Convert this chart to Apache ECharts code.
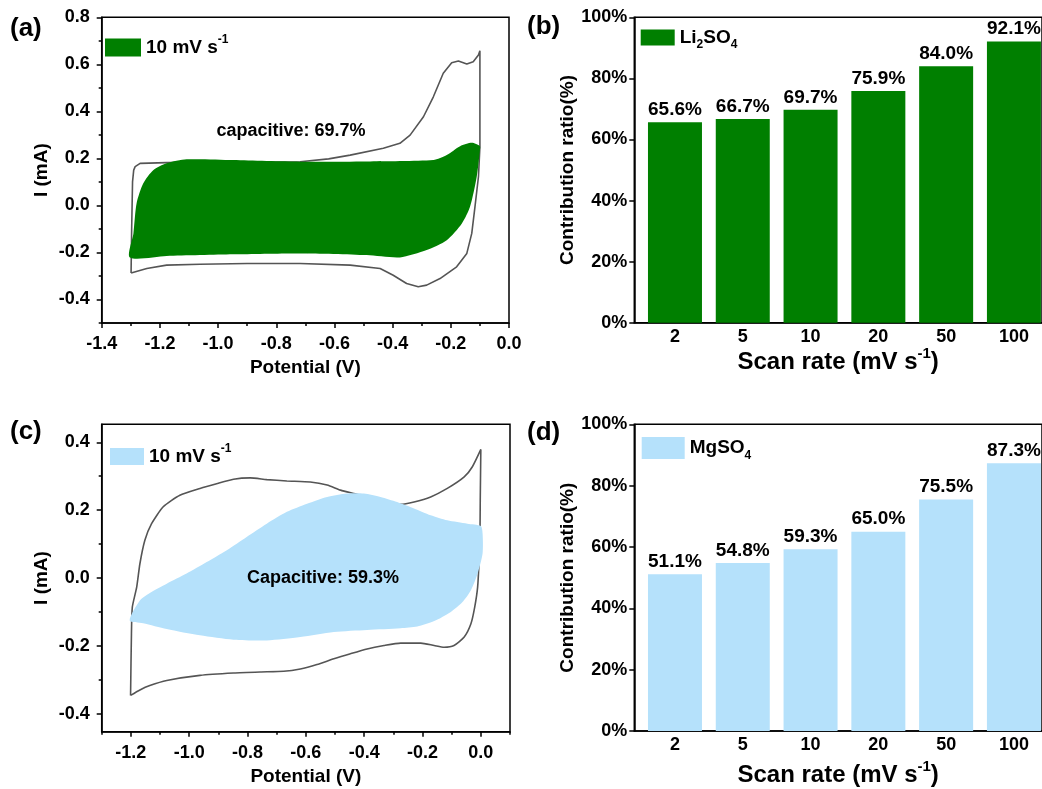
<!DOCTYPE html>
<html><head><meta charset="utf-8">
<script src="https://cdn.jsdelivr.net/npm/echarts@6/dist/echarts.min.js"></script>
<style>html,body{margin:0;padding:0;background:#fff;overflow:hidden}#c{width:1042px;height:789px}</style>
</head><body><div id="c"></div>
<script>
// ---------- data ----------
const scanRates = ['2', '5', '10', '20', '50', '100'];
const li2so4Ratio = [65.6, 66.7, 69.7, 75.9, 84.0, 92.1];
const mgso4Ratio = [51.1, 54.8, 59.3, 65.0, 75.5, 87.3];

// (a) CV outline (Potential V, Current mA)
const cvOutlineA = [[-1.299,-0.287],[-1.297,-0.10],[-1.294,0.10],[-1.290,0.150],[-1.285,0.165],[-1.268,0.179],[-1.177,0.182],[-1.0,0.183],[-0.85,0.184],[-0.718,0.186],[-0.620,0.198],[-0.546,0.214],[-0.432,0.243],[-0.375,0.264],[-0.340,0.299],[-0.294,0.377],[-0.260,0.462],[-0.226,0.562],[-0.197,0.607],[-0.174,0.614],[-0.145,0.601],[-0.123,0.611],[-0.105,0.640],[-0.100,0.658],[-0.100,0.250],[-0.105,0.122],[-0.117,-0.006],[-0.128,-0.119],[-0.145,-0.204],[-0.180,-0.261],[-0.237,-0.311],[-0.283,-0.339],[-0.312,-0.346],[-0.352,-0.332],[-0.398,-0.297],[-0.443,-0.268],[-0.546,-0.254],[-0.718,-0.247],[-0.90,-0.247],[-1.062,-0.250],[-1.177,-0.254],[-1.245,-0.268],[-1.299,-0.287]];
// (a) capacitive contribution region
const capFillA = [[-1.303,-0.221],[-1.291,-0.119],[-1.280,0.009],[-1.257,0.094],[-1.223,0.150],[-1.177,0.179],[-1.108,0.196],[-0.948,0.193],[-0.718,0.186],[-0.489,0.187],[-0.260,0.193],[-0.214,0.214],[-0.168,0.252],[-0.128,0.266],[-0.100,0.252],[-0.100,0.235],[-0.111,0.122],[-0.134,-0.006],[-0.162,-0.077],[-0.214,-0.148],[-0.283,-0.190],[-0.375,-0.221],[-0.489,-0.211],[-0.718,-0.204],[-0.948,-0.208],[-1.177,-0.215]];

// (c) CV outline
const cvOutlineC = [[-1.201,-0.346],[-1.198,-0.164],[-1.195,-0.086],[-1.180,-0.027],[-1.169,0.042],[-1.152,0.111],[-1.129,0.160],[-1.089,0.210],[-1.032,0.244],[-0.963,0.264],[-0.906,0.278],[-0.848,0.291],[-0.791,0.295],[-0.734,0.290],[-0.665,0.286],[-0.585,0.283],[-0.527,0.274],[-0.481,0.259],[-0.436,0.249],[-0.390,0.239],[-0.332,0.224],[-0.275,0.217],[-0.229,0.224],[-0.172,0.239],[-0.115,0.264],[-0.057,0.298],[-0.029,0.328],[0.0,0.379],[-0.002,0.229],[-0.003,0.131],[-0.006,0.052],[-0.011,-0.027],[-0.021,-0.086],[-0.034,-0.135],[-0.057,-0.174],[-0.092,-0.199],[-0.126,-0.204],[-0.160,-0.199],[-0.206,-0.192],[-0.275,-0.192],[-0.332,-0.199],[-0.390,-0.209],[-0.447,-0.223],[-0.504,-0.238],[-0.562,-0.255],[-0.619,-0.268],[-0.676,-0.275],[-0.757,-0.277],[-0.848,-0.280],[-0.963,-0.287],[-1.077,-0.302],[-1.135,-0.317],[-1.169,-0.330],[-1.201,-0.346]];
// (c) capacitive contribution region
const capFillC = [[-1.204,-0.125],[-1.169,-0.066],[-1.135,-0.044],[-1.077,-0.017],[-1.009,0.013],[-0.940,0.047],[-0.871,0.082],[-0.803,0.121],[-0.734,0.160],[-0.665,0.195],[-0.596,0.219],[-0.527,0.239],[-0.459,0.249],[-0.401,0.249],[-0.344,0.239],[-0.287,0.224],[-0.229,0.205],[-0.172,0.185],[-0.115,0.170],[-0.046,0.160],[0.0,0.153],[0.006,0.131],[0.006,0.072],[-0.011,0.013],[-0.034,-0.036],[-0.063,-0.071],[-0.103,-0.100],[-0.160,-0.127],[-0.218,-0.143],[-0.275,-0.148],[-0.390,-0.153],[-0.504,-0.159],[-0.619,-0.174],[-0.734,-0.184],[-0.848,-0.182],[-0.963,-0.169],[-1.077,-0.150],[-1.158,-0.133]];

// tick values
const yLabelsA = [-0.4, -0.2, 0, 0.2, 0.4, 0.6, 0.8];
const yMinorA = [-0.5, -0.3, -0.1, 0.1, 0.3, 0.5, 0.7];
const xLabelsC = [-1.2, -1.0, -0.8, -0.6, -0.4, -0.2, 0];
const xMinorC = [-1.3, -1.1, -0.9, -0.7, -0.5, -0.3, -0.1, 0.1];
const yLabelsC = [-0.4, -0.2, 0, 0.2, 0.4];
const yMinorC = [-0.3, -0.1, 0.1, 0.3];
const barPositions = [1, 2, 3, 4, 5, 6];

// ---------- styling ----------
const FF = 'Liberation Sans, Arial, sans-serif';
const GREEN = '#007f00';
const BLUE = '#b5e1fb';
const GRAY = '#555555';
const lbl = (size) => ({ color: '#000', fontFamily: FF, fontWeight: 'bold', fontSize: size });
const axLine = { show: true, onZero: false, lineStyle: { color: '#000', width: 1.5 } };
const noLine = { show: false, onZero: false };
const richSup = (size) => ({
  t: { fontFamily: FF, fontWeight: 'bold', fontSize: size, color: '#000', verticalAlign: 'middle', lineHeight: size + 8 },
  sup: { fontFamily: FF, fontWeight: 'bold', fontSize: Math.round(size * 0.62), color: '#000', verticalAlign: 'top' },
  sub: { fontFamily: FF, fontWeight: 'bold', fontSize: Math.round(size * 0.65), color: '#000', verticalAlign: 'bottom' }
});

function polygonSeries(points, color, xi, yi, name) {
  return {
    type: 'custom', name: name, xAxisIndex: xi, yAxisIndex: yi, z: 3,
    itemStyle: { color: color },
    data: points,
    encode: { x: 0, y: 1 },
    renderItem: function (params, api) {
      if (params.dataIndex !== 0) return null;
      const pts = points.map(p => api.coord(p));
      return { type: 'polygon', shape: { points: pts, smooth: 0.25 }, style: { fill: color, stroke: null } };
    }
  };
}

const chart = echarts.init(document.getElementById('c'), null, { renderer: 'canvas' });

const option = {
  animation: false,
  backgroundColor: '#fff',
  grid: [
    { left: 101.7, top: 17.3, width: 407.3, height: 305.7, show: true, borderColor: '#000', borderWidth: 1.5 },
    { left: 634.3, top: 17.3, width: 407.7, height: 305.4, show: true, borderColor: '#000', borderWidth: 1.5 },
    { left: 101.7, top: 424.3, width: 408.3, height: 307.4, show: true, borderColor: '#000', borderWidth: 1.5 },
    { left: 634.3, top: 424.3, width: 407.7, height: 306.7, show: true, borderColor: '#000', borderWidth: 1.5 }
  ],
  xAxis: [
    { gridIndex: 0, type: 'value', position: 'bottom', min: -1.4, max: 0, interval: 0.2,
      axisLine: axLine, splitLine: { show: false },
      axisTick: { length: 5, lineStyle: { color: '#000', width: 1.5 } },
      minorTick: { show: true, splitNumber: 2, length: 3, lineStyle: { color: '#000', width: 1.5 } },
      axisLabel: Object.assign(lbl(18), { margin: 12, formatter: v => v.toFixed(1) }),
      name: 'Potential (V)', nameLocation: 'middle', nameGap: 35, nameTextStyle: lbl(19) },
    { gridIndex: 1, type: 'value', position: 'bottom', min: 0.4, max: 6.414,
      axisLine: axLine, splitLine: { show: false }, axisTick: { show: false },
      axisLabel: Object.assign(lbl(18), { margin: 5, customValues: barPositions, formatter: v => scanRates[Math.round(v) - 1] }),
      name: '{t|Scan rate (mV s}{sup|-1}{t|)}', nameLocation: 'middle', nameGap: 21,
      nameTextStyle: { rich: richSup(24) } },
    { gridIndex: 2, type: 'value', position: 'bottom', min: -1.3, max: 0.1,
      axisLine: axLine, splitLine: { show: false },
      axisTick: { length: 5, customValues: xLabelsC, lineStyle: { color: '#000', width: 1.5 } },
      axisLabel: Object.assign(lbl(18), { margin: 12, customValues: xLabelsC, formatter: v => v.toFixed(1) }),
      name: 'Potential (V)', nameLocation: 'middle', nameGap: 36, nameTextStyle: lbl(19) },
    { gridIndex: 2, type: 'value', position: 'bottom', min: -1.3, max: 0.1,
      axisLine: noLine, splitLine: { show: false }, axisLabel: { show: false },
      axisTick: { length: 3, customValues: xMinorC, lineStyle: { color: '#000', width: 1.5 } } },
    { gridIndex: 3, type: 'value', position: 'bottom', min: 0.4, max: 6.414,
      axisLine: axLine, splitLine: { show: false }, axisTick: { show: false },
      axisLabel: Object.assign(lbl(18), { margin: 5, customValues: barPositions, formatter: v => scanRates[Math.round(v) - 1] }),
      name: '{t|Scan rate (mV s}{sup|-1}{t|)}', nameLocation: 'middle', nameGap: 28,
      nameTextStyle: { rich: richSup(24) } }
  ],
  yAxis: [
    { gridIndex: 0, type: 'value', position: 'left', min: -0.5, max: 0.8,
      axisLine: axLine, splitLine: { show: false },
      axisTick: { length: 5, customValues: yLabelsA, lineStyle: { color: '#000', width: 1.5 } },
      axisLabel: Object.assign(lbl(18), { margin: 12, customValues: yLabelsA, formatter: v => v.toFixed(1) }),
      name: 'I (mA)', nameLocation: 'middle', nameGap: 50, nameTextStyle: lbl(19) },
    { gridIndex: 0, type: 'value', position: 'left', min: -0.5, max: 0.8,
      axisLine: noLine, splitLine: { show: false }, axisLabel: { show: false },
      axisTick: { length: 3, customValues: yMinorA, lineStyle: { color: '#000', width: 1.5 } } },
    { gridIndex: 1, type: 'value', position: 'left', min: 0, max: 100, interval: 20,
      axisLine: axLine, splitLine: { show: false },
      axisTick: { length: 5, lineStyle: { color: '#000', width: 1.5 } },
      axisLabel: Object.assign(lbl(18), { margin: 7, formatter: '{value}%' }),
      name: 'Contribution ratio(%)', nameLocation: 'middle', nameGap: 43, nameTextStyle: lbl(19) },
    { gridIndex: 2, type: 'value', position: 'left', min: -0.453, max: 0.453,
      axisLine: axLine, splitLine: { show: false },
      axisTick: { length: 5, customValues: yLabelsC, lineStyle: { color: '#000', width: 1.5 } },
      axisLabel: Object.assign(lbl(18), { margin: 12, customValues: yLabelsC, formatter: v => v.toFixed(1) }),
      name: 'I (mA)', nameLocation: 'middle', nameGap: 50, nameTextStyle: lbl(19) },
    { gridIndex: 2, type: 'value', position: 'left', min: -0.453, max: 0.453,
      axisLine: noLine, splitLine: { show: false }, axisLabel: { show: false },
      axisTick: { length: 3, customValues: yMinorC, lineStyle: { color: '#000', width: 1.5 } } },
    { gridIndex: 3, type: 'value', position: 'left', min: 0, max: 100, interval: 20,
      axisLine: axLine, splitLine: { show: false },
      axisTick: { length: 5, lineStyle: { color: '#000', width: 1.5 } },
      axisLabel: Object.assign(lbl(18), { margin: 7, formatter: '{value}%' }),
      name: 'Contribution ratio(%)', nameLocation: 'middle', nameGap: 43, nameTextStyle: lbl(19) }
  ],
  legend: [
    { data: [{ name: 'capA', icon: 'rect' }], left: 105, top: 34, itemWidth: 36, itemHeight: 18, padding: 0, selectedMode: false,
      formatter: () => '{t|10 mV s}{sup|-1}', textStyle: { rich: richSup(19) } },
    { data: [{ name: 'Li2SO4', icon: 'rect' }], left: 640.7, top: 28, itemWidth: 34, itemHeight: 16, padding: 0, selectedMode: false,
      formatter: () => '{t|Li}{sub|2}{t|SO}{sub|4}', textStyle: { rich: richSup(19) } },
    { data: [{ name: 'capC', icon: 'rect' }], left: 110, top: 443, itemWidth: 34, itemHeight: 17, padding: 0, selectedMode: false,
      formatter: () => '{t|10 mV s}{sup|-1}', textStyle: { rich: richSup(19) } },
    { data: [{ name: 'MgSO4', icon: 'rect' }], left: 641.7, top: 437, itemWidth: 43, itemHeight: 22, padding: 0, selectedMode: false,
      formatter: () => '{t|MgSO}{sub|4}', textStyle: { rich: richSup(19) } }
  ],
  series: [
    { type: 'line', name: 'cvA', xAxisIndex: 0, yAxisIndex: 0, data: cvOutlineA, showSymbol: false, symbol: 'none',
      lineStyle: { color: GRAY, width: 1.6 }, itemStyle: { color: GRAY }, z: 2, smooth: false },
    polygonSeries(capFillA, GREEN, 0, 0, 'capA'),
    { type: 'bar', name: 'Li2SO4', xAxisIndex: 1, yAxisIndex: 2, barWidth: 54,
      data: li2so4Ratio.map((v, i) => [barPositions[i], v]),
      itemStyle: { color: GREEN },
      label: { show: true, position: 'top', distance: 3, color: '#000', fontFamily: FF, fontWeight: 'bold', fontSize: 19,
        formatter: p => p.value[1].toFixed(1) + '%' } },
    { type: 'line', name: 'cvC', xAxisIndex: 2, yAxisIndex: 3, data: cvOutlineC, showSymbol: false, symbol: 'none',
      lineStyle: { color: GRAY, width: 1.6 }, itemStyle: { color: GRAY }, z: 2, smooth: 0.2 },
    polygonSeries(capFillC, BLUE, 2, 3, 'capC'),
    { type: 'bar', name: 'MgSO4', xAxisIndex: 4, yAxisIndex: 5, barWidth: 54,
      data: mgso4Ratio.map((v, i) => [barPositions[i], v]),
      itemStyle: { color: BLUE },
      label: { show: true, position: 'top', distance: 3, color: '#000', fontFamily: FF, fontWeight: 'bold', fontSize: 19,
        formatter: p => p.value[1].toFixed(1) + '%' } }
  ],
  graphic: [
    { type: 'text', x: 10, y: 29, style: { text: '(a)', font: 'bold 26px ' + FF, fill: '#000', verticalAlign: 'middle' } },
    { type: 'text', x: 527, y: 27, style: { text: '(b)', font: 'bold 26px ' + FF, fill: '#000', verticalAlign: 'middle' } },
    { type: 'text', x: 10, y: 432, style: { text: '(c)', font: 'bold 26px ' + FF, fill: '#000', verticalAlign: 'middle' } },
    { type: 'text', x: 527, y: 433, style: { text: '(d)', font: 'bold 26px ' + FF, fill: '#000', verticalAlign: 'middle' } },
    { type: 'text', x: 291, y: 131, z: 10, style: { text: 'capacitive: 69.7%', font: 'bold 18px ' + FF, fill: '#000', align: 'center', verticalAlign: 'middle' } },
    { type: 'text', x: 323, y: 578, z: 10, style: { text: 'Capacitive: 59.3%', font: 'bold 18px ' + FF, fill: '#000', align: 'center', verticalAlign: 'middle' } }
  ]
};
chart.setOption(option);
</script>
</body></html>
